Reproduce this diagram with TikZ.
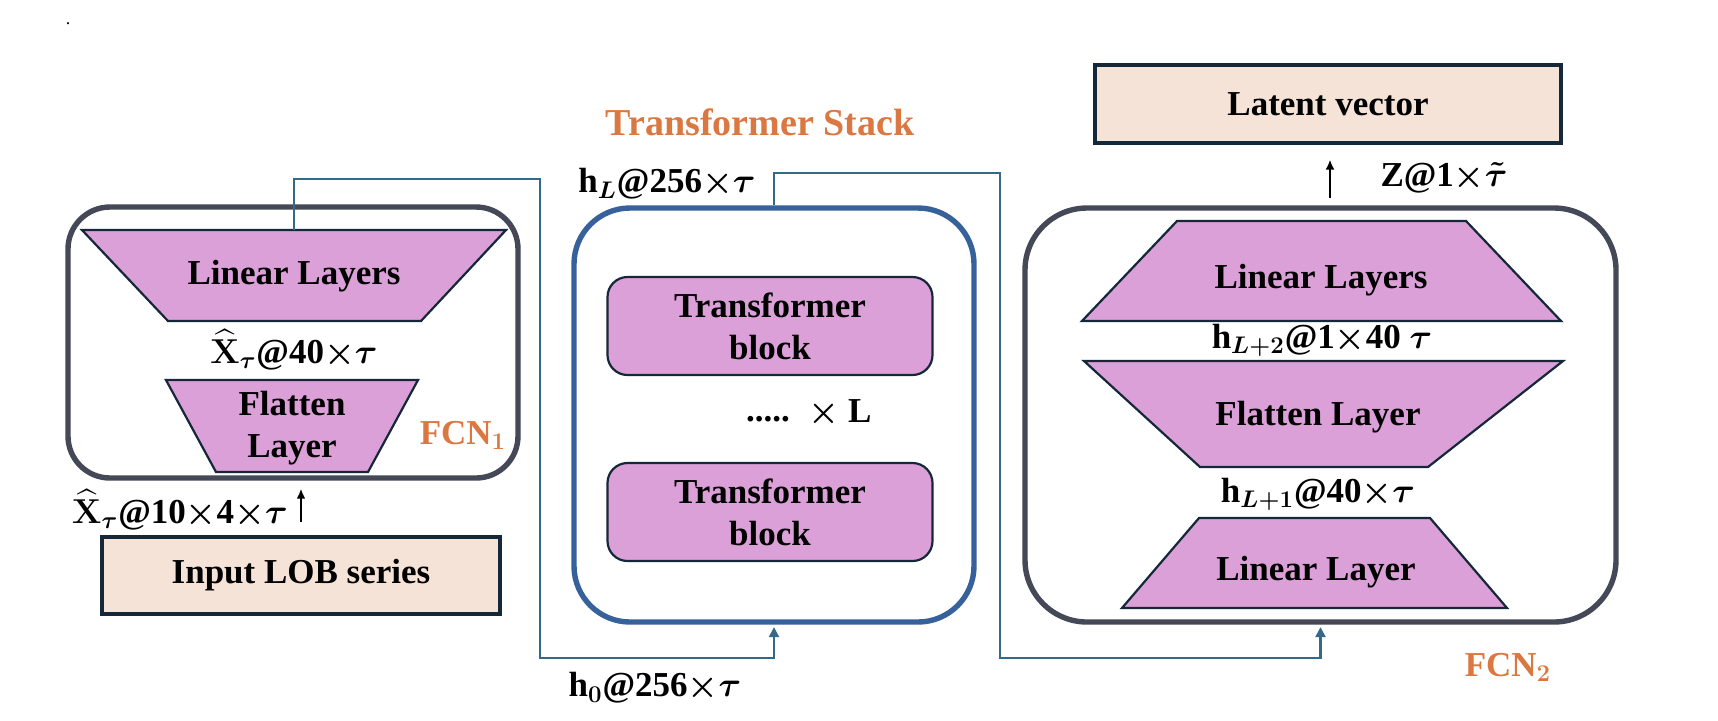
\documentclass[tikz,border=0pt]{standalone}
\usepackage{amsmath}
\usepackage{fontspec}
\setmainfont{Liberation Serif}
\usetikzlibrary{arrows.meta,calc}
\definecolor{pinkfill}{HTML}{DBA0D7}
\definecolor{edgec}{HTML}{15283A}
\definecolor{beige}{HTML}{F5E3D8}
\definecolor{fcngray}{HTML}{454856}
\definecolor{tblue}{HTML}{36619A}
\definecolor{linkc}{HTML}{346A88}
\definecolor{orng}{HTML}{DB7842}
\begin{document}
\begin{tikzpicture}[x=0.5pt,y=-0.5pt,
  every node/.style={font=\fontsize{17.5}{21}\selectfont\bfseries\boldmath, inner sep=0pt, align=center},
  layer/.style={fill=pinkfill, draw=edgec, line width=1.1pt, line join=miter},
  fcnbox/.style={draw=fcngray, line width=2.7pt},
  tstackbox/.style={draw=tblue, line width=2.7pt, rounded corners=28pt, minimum width=200pt, minimum height=207pt},
  tblock/.style={fill=pinkfill, draw=edgec, line width=1.1pt, rounded corners=10pt, minimum width=162.5pt, minimum height=49pt},
  beigebox/.style={fill=beige, draw=edgec, line width=1.6pt},
  wire/.style={draw=linkc, line width=1.1pt},
  wirehead/.style={-{Triangle[length=5pt,width=5pt]}, shorten >=1.2pt},
  upArrow/.style={draw=black, line width=1.1pt, -{Latex[length=5pt,width=4.5pt]}},
  orglbl/.style={text=orng},
]
\fill[white] (0,0) rectangle (1718,720);
\useasboundingbox (0,0) rectangle (1718,720);

\node[font=\fontsize{9}{10}\selectfont] (dot) at (68,24) {.};

% ---------- FCN1 ----------
\node[fcnbox, rounded corners=21pt, minimum width=225pt, minimum height=135.5pt] (fcn1) at (293,342.5) {};
\filldraw[layer] (82,230) -- (506,230) -- (421,321) -- (168,321) -- cycle;
\coordinate (ll1top) at (294,230);
\node (ll1) at (294,276) {Linear Layers};
\node (x40) at (294,350) {$\widehat{\mathbf{X}}_{\tau}$@40${\times}\tau$};
\filldraw[layer] (166,380) -- (418,380) -- (368,472) -- (216,472) -- cycle;
\node (fl1) at (292,428) {Flatten\\Layer};
\node[orglbl] (fcn1lbl) at (463,435) {FCN$_{\mathbf{1}}$};
\node (x104) at (180,510) {$\widehat{\mathbf{X}}_{\tau}$@10${\times}$4${\times}\tau$};
\node[beigebox, minimum width=199pt, minimum height=38.5pt] (input) at (301,575.5) {Input LOB series};
\draw[upArrow] ($(input.north)+(0,-13)$) -- ($(input.north |- fcn1.south)+(0,8)$);

% ---------- Transformer stack ----------
\node[orglbl, font=\fontsize{19}{22}\selectfont\bfseries] (tslbl) at (760,122) {Transformer Stack};
\node[tstackbox] (tstack) at (774,415) {};
\node (hL) at (667,184) {h$_{L}$@256${\times}\tau$};
\node[tblock] (tb1) at (770,326) {Transformer\\block};
\node[tblock] (tb2) at (770,512) {Transformer\\block};
\node (dots) at (768,419) {.....};
\node (xL) at (840,413) {$\times$ L};
\node (h0) at (655,688) {h$_{0}$@256${\times}\tau$};

% ---------- FCN2 ----------
\node[fcnbox, rounded corners=31pt, minimum width=295.5pt, minimum height=207pt] (fcn2) at (1320.5,415) {};
\filldraw[layer] (1177,221) -- (1466,221) -- (1561,321) -- (1082,321) -- cycle;
\node (ll2) at (1321,280) {Linear Layers};
\node (hL2) at (1322,340) {h$_{L+2}$@1${\times}$40 $\tau$};
\filldraw[layer] (1084,361) -- (1563,361) -- (1428,467) -- (1200,467) -- cycle;
\node (fl2) at (1318,417) {Flatten Layer};
\node (hL1) at (1318,494) {h$_{L+1}$@40${\times}\tau$};
\filldraw[layer] (1199,518) -- (1430,518) -- (1507,608) -- (1122,608) -- cycle;
\node (ll3) at (1316,572) {Linear Layer};
\node[orglbl] (fcn2lbl) at (1508,667) {FCN$_{\mathbf{2}}$};

\node[beigebox, minimum width=233pt, minimum height=39pt] (latent) at (1328,104) {Latent vector};
\draw[upArrow] ($(latent.south)+(2,53)$) -- ($(latent.south)+(2,15)$);
\node (zlbl) at (1444,178) {Z@1${\times}\tilde{\tau}$};

% ---------- connectors ----------
\coordinate (c1a) at (540,179);
\coordinate (c1b) at (540,658);
\draw[wire, wirehead] (ll1top) |- (c1a) -- (c1b) -| (tstack.south);
\coordinate (c2a) at (1000,173);
\coordinate (c2b) at (1000,658);
\draw[wire, wirehead] (tstack.north) |- (c2a) -- (c2b) -| (fcn2.south);
\end{tikzpicture}
\end{document}
